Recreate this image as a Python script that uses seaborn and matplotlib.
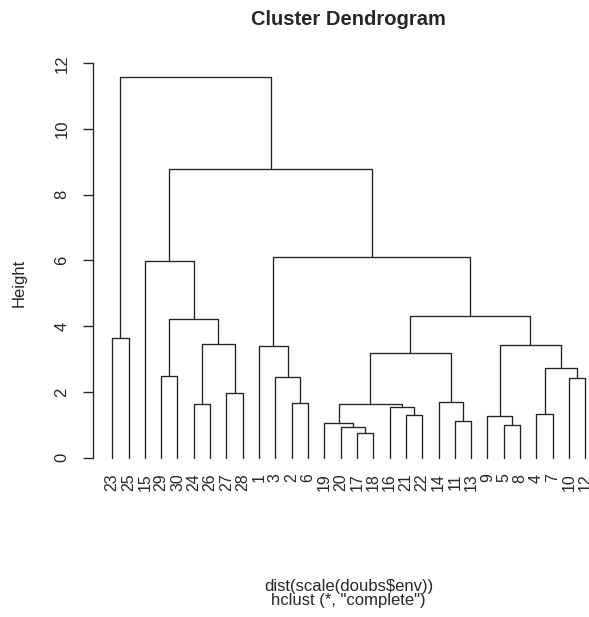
import numpy as np
import pandas as pd
import matplotlib
matplotlib.use("Agg")
import matplotlib.pyplot as plt
import seaborn as sns

# ---- data (R hclust-style merge table: negative = leaf, positive = earlier merge) ----
merge_left = [-17, -20, -5, -19, -11, -9, -21, -4, -16, 4, -24, -2, -14, -27, -10,
              -3, -29, 8, 10, -1, 6, 11, -23, 17, 19, -15, 20, 26, 23]
merge_right = [-18, 1, -8, 2, -13, 3, -22, -7, 7, 9, -26, -6, 5, -28, -12,
               12, -30, 15, 13, 16, 18, 14, -25, 22, 21, 24, 25, 27, 28]
merge_height = [0.75, 0.94, 0.99, 1.07, 1.12, 1.26, 1.29, 1.33, 1.53, 1.63, 1.64, 1.67,
                1.70, 1.98, 2.42, 2.45, 2.49, 2.73, 3.17, 3.41, 3.44, 3.47, 3.64, 4.22,
                4.32, 5.97, 6.09, 8.79, 11.58]
leaf_order = [23, 25, 15, 29, 30, 24, 26, 27, 28, 1, 3, 2, 6, 19, 20, 17, 18, 16,
              21, 22, 14, 11, 13, 9, 5, 8, 4, 7, 10, 12]
ytick_values = [0, 2, 4, 6, 8, 10, 12]

title = "Cluster Dendrogram"
xlab = "dist(scale(doubs$env))"
sub = 'hclust (*, "complete")'
ylab = "Height"

# ---- build segments ----
leaf_pos = {leaf: i + 1 for i, leaf in enumerate(leaf_order)}
node_x, node_h = {}, {}
rows = []
for k, (a, b, h) in enumerate(zip(merge_left, merge_right, merge_height), start=1):
    def info(n):
        if n < 0:
            return leaf_pos[-n], 0.0
        return node_x[n], node_h[n]
    xa, ha = info(a)
    xb, hb = info(b)
    for j, (px, py) in enumerate([(xa, ha), (xa, h), (xb, h), (xb, hb)]):
        rows.append({"seg": k, "order": j, "x": px, "y": py})
    node_x[k] = (xa + xb) / 2
    node_h[k] = h
df = pd.DataFrame(rows)

sns.set_style("white")
plt.rcParams["font.family"] = ["Liberation Sans", "DejaVu Sans"]

W, H = 589, 617
fig = plt.figure(figsize=(W / 100, H / 100), dpi=100)
left_px, right_px = 93.3, 604.3
bot_px, top_px = 472.9, 61.9
ax = fig.add_axes([left_px / W, 1 - bot_px / H, (right_px - left_px) / W, (bot_px - top_px) / H])

sns.lineplot(data=df, x="x", y="y", units="seg", estimator=None, sort=False,
             color="#222222", linewidth=0.95, ax=ax, legend=False)

ax.set_xlim(-0.16, 31.16)
ax.set_ylim(-0.463, 12.04)
for s in ["top", "right", "bottom"]:
    ax.spines[s].set_visible(False)
ax.spines["left"].set_bounds(0, 12)
ax.spines["left"].set_color("#222222")
ax.spines["left"].set_linewidth(0.95)

ax.set_xticks(range(1, len(leaf_order) + 1))
ax.set_xticklabels([str(v) for v in leaf_order], rotation=90, fontsize=11.5)
ax.tick_params(axis="x", length=0, pad=0.5)
ax.set_yticks(ytick_values)
ax.set_yticklabels([str(v) for v in ytick_values], rotation=90, va="center", fontsize=12)
ax.tick_params(axis="y", length=7.2, width=0.95, color="#222222", pad=10, left=True)
ax.set_xlabel("")
ax.set_ylabel("")

cx = (left_px + right_px) / 2 / W
fig.text(19 / W, 1 - 283 / H, ylab, rotation=90, ha="center", va="center", fontsize=12)
fig.text(cx, 1 - 25 / H, title, ha="center", va="baseline", fontsize=14.5, fontweight="bold")
fig.text(cx, 1 - 591 / H, xlab, ha="center", va="baseline", fontsize=12)
fig.text(cx, 1 - 605.5 / H, sub, ha="center", va="baseline", fontsize=12)

fig.savefig("out.png", dpi=100)
